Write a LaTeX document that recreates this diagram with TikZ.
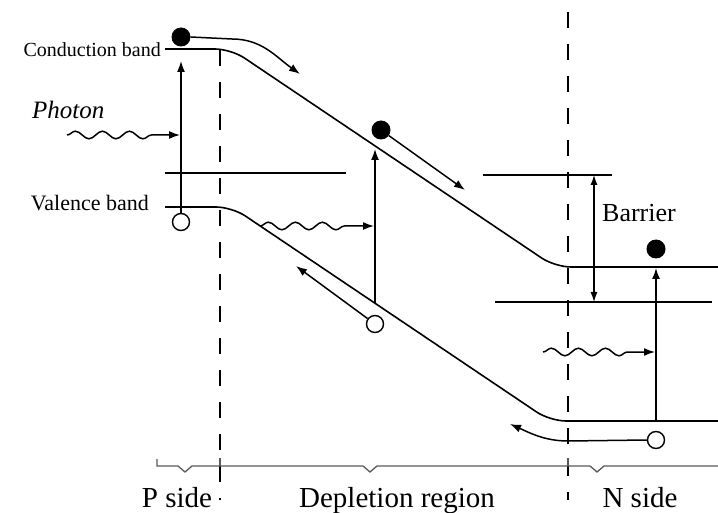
\documentclass[tikz,border=0pt]{standalone}
\usepackage{fontspec}
\setmainfont{Liberation Serif}
\usetikzlibrary{decorations.pathmorphing,arrows.meta}
\begin{document}
\begin{tikzpicture}[x=1pt,y=-1pt,
  band/.style={line width=1.6pt, rounded corners=16pt},
  lvl/.style={line width=1.4pt},
  arr/.style={line width=1.5pt,-{Latex[length=11pt,width=8pt]}},
  elec/.style={circle,fill=black,inner sep=0pt,minimum size=19pt},
  hole/.style={circle,draw=black,fill=white,line width=1.4pt,inner sep=0pt,minimum size=17pt},
  vdash/.style={line width=1.6pt,dash pattern=on 16pt off 16pt},
  brk/.style={line width=1.3pt,black!65},
  photon/.style={line width=1.5pt,decorate,decoration={snake,amplitude=3.8pt,segment length=27pt,post length=26pt},-{Latex[length=11pt,width=8pt]}},
  lab/.style={inner sep=0pt},
  big/.style={inner sep=0pt, font=\fontsize{29}{34}\selectfont}]
\useasboundingbox (0,0) rectangle (718,513);

% bands
\draw[band] (165,49) -- (231,49) -- (555,267) -- (718,267);
\draw[band] (165,207) -- (232,207) -- (550,421) -- (718,421);

% levels
\draw[lvl] (165,173) -- (346,173);
\draw[lvl] (483,175) -- (612,175);
\draw[lvl] (495,302) -- (712,302);

% dashed boundaries
\draw[vdash] (220,50) -- (220,500);
\draw[vdash] (568,12) -- (568,500);

% bottom bracket
\draw[brk] (157,459) -- (157,466) -- (178,466) -- (185,472) -- (192,466) -- (363,466) -- (370,472) -- (377,466)
  -- (590,466) -- (597,472) -- (604,466) -- (718,466);
\draw[brk] (220,458) -- (220,466);
\draw[brk] (568,458) -- (568,466);

% carriers
\node[elec] (e1) at (181,37) {};
\node[elec] (e2) at (381,130) {};
\node[elec] (e3) at (656,249) {};
\node[hole] (h1) at (181,222) {};
\node[hole] (h2) at (375,324) {};
\node[hole] (h3) at (656,440) {};

% excitation arrows
\coordinate (t1) at (181,61);
\coordinate (b2) at (375,303);
\coordinate (t2) at (375,149);
\coordinate (b3) at (656,421);
\coordinate (t3) at (656,268);
\draw[arr] (h1.north) -- (t1);
\draw[arr] (b2) -- (t2);
\draw[arr] (b3) -- (t3);

% barrier arrow
\coordinate (bt) at (594,175);
\coordinate (bb) at (594,302);
\draw[line width=1.1pt,{Latex[length=10pt,width=7pt]}-{Latex[length=10pt,width=7pt]}] (bt) -- (bb);

% photons
\coordinate (p1s) at (67,135);
\coordinate (p1e) at (180,135);
\coordinate (p2s) at (260,226);
\coordinate (p2e) at (374,226);
\coordinate (p3s) at (543,352);
\coordinate (p3e) at (655,352);
\draw[photon] (p1s) -- (p1e);
\draw[photon] (p2s) -- (p2e);
\draw[photon] (p3s) -- (p3e);

% drift arrows
\coordinate (d1) at (300,74);
\draw[arr] (e1.east) -- (232,39) .. controls (262,39) and (276,57) .. (d1);
\coordinate (d2) at (465,190);
\draw[arr] (e2) -- (d2);
\coordinate (d3) at (296,266);
\draw[arr] (h2) -- (d3);
\coordinate (d4) at (510,424);
\draw[arr] (h3.west) -- (568,441) .. controls (545,441) and (530,433) .. (d4);

% labels
\node[lab,anchor=base east,font=\fontsize{20}{24}\selectfont] (cb) at (161,57) {Conduction band};
\node[lab,anchor=base east,font=\fontsize{22}{26}\selectfont] (vb) at (149,211) {Valence band};
\node[lab,anchor=base west,font=\fontsize{25}{30}\selectfont\itshape] (ph) at (32,119) {Photon};
\node[lab,anchor=base west,font=\fontsize{26}{30}\selectfont] (bar) at (602,222) {Barrier};
\node[big,anchor=base] (ps) at (177,507) {P side};
\node[big,anchor=base] (dr) at (397,507) {Depletion region};
\node[big,anchor=base] (ns) at (640,507) {N side};
\end{tikzpicture}
\end{document}
